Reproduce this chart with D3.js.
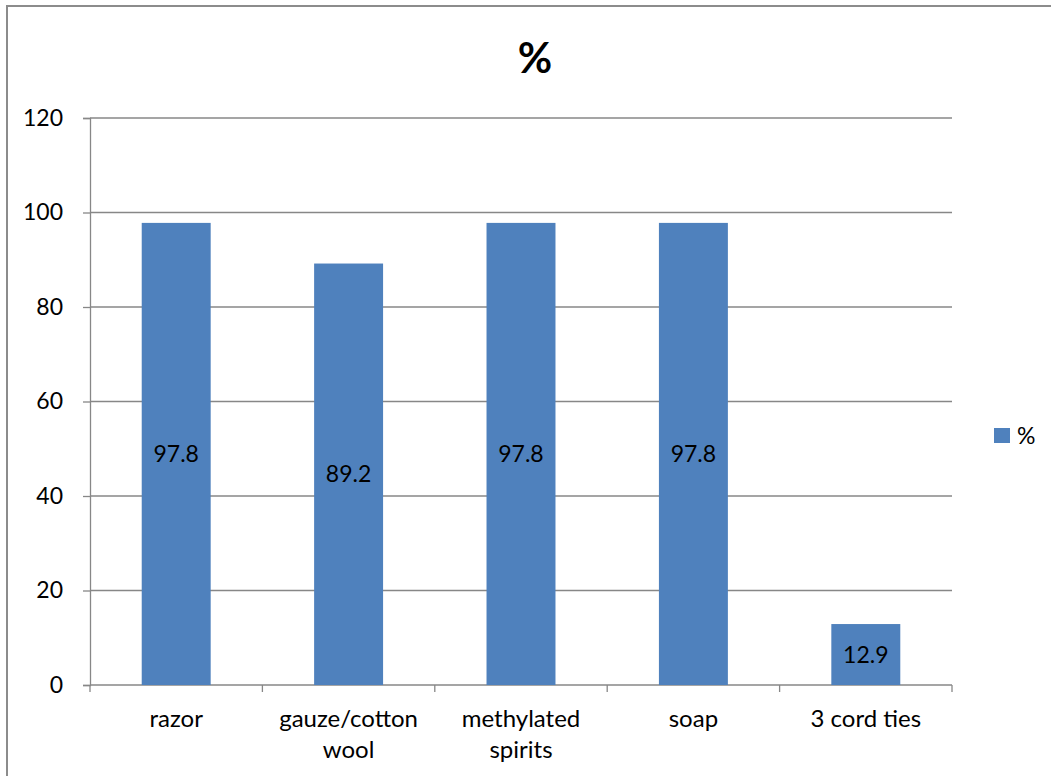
<!DOCTYPE html>
<html>
<head>
<meta charset="utf-8">
<script src="https://cdn.jsdelivr.net/npm/d3@7"></script>
<style>
  html, body { margin: 0; padding: 0; background: #fff; }
  svg { display: block; }
  text { font-family: Lato, "Open Sans", sans-serif; fill: #000; }
</style>
</head>
<body>
<svg id="chart" width="1051" height="776"></svg>
<script>
const categories = [["razor"], ["gauze/cotton", "wool"], ["methylated", "spirits"], ["soap"], ["3 cord ties"]];
const values = [97.8, 89.2, 97.8, 97.8, 12.9];
const yTicks = [0, 20, 40, 60, 80, 100, 120];
const seriesName = "%";
const chartTitle = "%";

const svg = d3.select("#chart");
const W = 1051, H = 776;
const plot = { left: 90, right: 952, top: 118, bottom: 685 };
const barColor = "#4f81bd";
const gridColor = "#878787";
const fontSize = 23;

// outer chart frame
svg.append("rect")
  .attr("x", 7).attr("y", 6)
  .attr("width", W + 10).attr("height", H + 10)
  .attr("fill", "none").attr("stroke", "#8c8c8c").attr("stroke-width", 2);

const keys = categories.map((c, i) => i);
const x = d3.scaleBand().domain(keys)
  .range([plot.left, plot.right])
  .paddingInner(0.6).paddingOuter(0.3);
const y = d3.scaleLinear().domain([0, 120]).range([plot.bottom, plot.top]);

// horizontal gridlines
svg.append("g").selectAll("line").data(yTicks.filter(t => t > 0)).join("line")
  .attr("x1", plot.left).attr("x2", plot.right)
  .attr("y1", d => y(d)).attr("y2", d => y(d))
  .attr("stroke", gridColor).attr("stroke-width", 1.3);

// y axis
const yAxis = svg.append("g").attr("transform", `translate(${plot.left},0)`)
  .call(d3.axisLeft(y).tickValues(yTicks).tickSize(7).tickPadding(20));
yAxis.attr("font-size", null).attr("font-family", null);
yAxis.select(".domain").attr("stroke", gridColor).attr("stroke-width", 1.3);
yAxis.selectAll(".tick line").attr("stroke", gridColor).attr("stroke-width", 1.3);
yAxis.selectAll(".tick text").attr("font-size", fontSize).attr("fill", "#000");

// x axis: ticks at category boundaries
const step = x.step();
const bounds = d3.range(categories.length + 1).map(i => plot.left + i * step);
svg.append("line")
  .attr("x1", plot.left).attr("x2", plot.right)
  .attr("y1", plot.bottom).attr("y2", plot.bottom)
  .attr("stroke", gridColor).attr("stroke-width", 1.3);
svg.append("g").selectAll("line").data(bounds).join("line")
  .attr("x1", d => d).attr("x2", d => d)
  .attr("y1", plot.bottom).attr("y2", plot.bottom + 7)
  .attr("stroke", gridColor).attr("stroke-width", 1.3);

// category labels
const labels = svg.append("g").selectAll("text").data(categories).join("text")
  .attr("x", (d, i) => x(i) + x.bandwidth() / 2)
  .attr("y", 727)
  .attr("text-anchor", "middle")
  .attr("font-size", 24);
labels.selectAll("tspan").data(d => d).join("tspan")
  .attr("x", function () { return d3.select(this.parentNode).attr("x"); })
  .attr("dy", (d, i) => i === 0 ? 0 : 31)
  .text(d => d);

// bars
svg.append("g").selectAll("rect").data(values).join("rect")
  .attr("x", (d, i) => x(i))
  .attr("y", d => y(d))
  .attr("width", x.bandwidth())
  .attr("height", d => y(0) - y(d))
  .attr("fill", barColor);

// value labels at bar centres
svg.append("g").selectAll("text").data(values).join("text")
  .attr("x", (d, i) => x(i) + x.bandwidth() / 2)
  .attr("y", d => (y(d) + y(0)) / 2)
  .attr("dy", "0.35em")
  .attr("text-anchor", "middle")
  .attr("font-size", fontSize)
  .text(d => d3.format(".1f")(d));

// title
svg.append("text")
  .attr("x", 535).attr("y", 73)
  .attr("text-anchor", "middle")
  .attr("font-size", 42).attr("font-weight", "bold")
  .text(chartTitle);

// legend
const lg = svg.append("g").attr("transform", "translate(994,436)");
lg.append("rect").attr("x", 0).attr("y", -8).attr("width", 16).attr("height", 15).attr("fill", barColor);
lg.append("text").attr("x", 23).attr("y", 0).attr("dy", "0.35em").attr("font-size", fontSize).text(seriesName);
</script>
</body>
</html>
